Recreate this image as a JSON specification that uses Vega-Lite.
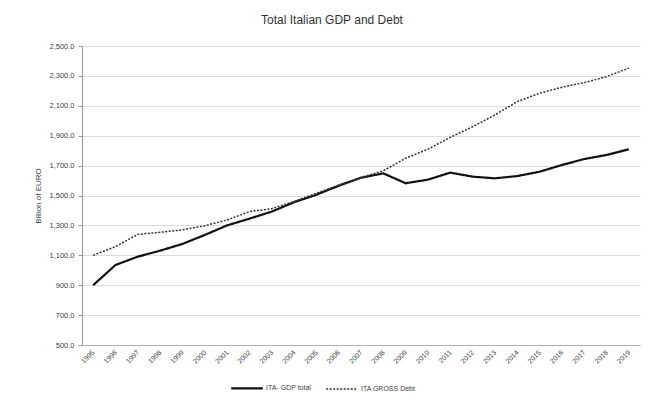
{
  "$schema": "https://vega.github.io/schema/vega-lite/v6.json",
  "autosize": {"type": "none"},
  "width": 558,
  "height": 299,
  "padding": {"left": 82, "top": 46, "right": 18, "bottom": 59},
  "background": "white",
  "title": {
    "text": "Total Italian GDP and Debt",
    "font": "Liberation Sans",
    "fontSize": 12,
    "fontWeight": "normal",
    "color": "#333333",
    "anchor": "middle",
    "dx": -29,
    "offset": 15
  },
  "data": {
    "values": [
      {"year": "1995", "series": "ITA- GDP total", "value": 900},
      {"year": "1996", "series": "ITA- GDP total", "value": 1035},
      {"year": "1997", "series": "ITA- GDP total", "value": 1091},
      {"year": "1998", "series": "ITA- GDP total", "value": 1131},
      {"year": "1999", "series": "ITA- GDP total", "value": 1176},
      {"year": "2000", "series": "ITA- GDP total", "value": 1236},
      {"year": "2001", "series": "ITA- GDP total", "value": 1300},
      {"year": "2002", "series": "ITA- GDP total", "value": 1345},
      {"year": "2003", "series": "ITA- GDP total", "value": 1392},
      {"year": "2004", "series": "ITA- GDP total", "value": 1455},
      {"year": "2005", "series": "ITA- GDP total", "value": 1505},
      {"year": "2006", "series": "ITA- GDP total", "value": 1565},
      {"year": "2007", "series": "ITA- GDP total", "value": 1619},
      {"year": "2008", "series": "ITA- GDP total", "value": 1648},
      {"year": "2009", "series": "ITA- GDP total", "value": 1582},
      {"year": "2010", "series": "ITA- GDP total", "value": 1606},
      {"year": "2011", "series": "ITA- GDP total", "value": 1653},
      {"year": "2012", "series": "ITA- GDP total", "value": 1626},
      {"year": "2013", "series": "ITA- GDP total", "value": 1615},
      {"year": "2014", "series": "ITA- GDP total", "value": 1630},
      {"year": "2015", "series": "ITA- GDP total", "value": 1659},
      {"year": "2016", "series": "ITA- GDP total", "value": 1704},
      {"year": "2017", "series": "ITA- GDP total", "value": 1744},
      {"year": "2018", "series": "ITA- GDP total", "value": 1771},
      {"year": "2019", "series": "ITA- GDP total", "value": 1809},
      {"year": "1995", "series": "ITA GROSS Debt", "value": 1100},
      {"year": "1996", "series": "ITA GROSS Debt", "value": 1158},
      {"year": "1997", "series": "ITA GROSS Debt", "value": 1240},
      {"year": "1998", "series": "ITA GROSS Debt", "value": 1254},
      {"year": "1999", "series": "ITA GROSS Debt", "value": 1270},
      {"year": "2000", "series": "ITA GROSS Debt", "value": 1298},
      {"year": "2001", "series": "ITA GROSS Debt", "value": 1336},
      {"year": "2002", "series": "ITA GROSS Debt", "value": 1392},
      {"year": "2003", "series": "ITA GROSS Debt", "value": 1412},
      {"year": "2004", "series": "ITA GROSS Debt", "value": 1460},
      {"year": "2005", "series": "ITA GROSS Debt", "value": 1515},
      {"year": "2006", "series": "ITA GROSS Debt", "value": 1570},
      {"year": "2007", "series": "ITA GROSS Debt", "value": 1620},
      {"year": "2008", "series": "ITA GROSS Debt", "value": 1665},
      {"year": "2009", "series": "ITA GROSS Debt", "value": 1749},
      {"year": "2010", "series": "ITA GROSS Debt", "value": 1810},
      {"year": "2011", "series": "ITA GROSS Debt", "value": 1889},
      {"year": "2012", "series": "ITA GROSS Debt", "value": 1960},
      {"year": "2013", "series": "ITA GROSS Debt", "value": 2039},
      {"year": "2014", "series": "ITA GROSS Debt", "value": 2128},
      {"year": "2015", "series": "ITA GROSS Debt", "value": 2184},
      {"year": "2016", "series": "ITA GROSS Debt", "value": 2224},
      {"year": "2017", "series": "ITA GROSS Debt", "value": 2255},
      {"year": "2018", "series": "ITA GROSS Debt", "value": 2295},
      {"year": "2019", "series": "ITA GROSS Debt", "value": 2352}
    ]
  },
  "mark": {"type": "line", "strokeCap": "butt"},
  "encoding": {
    "x": {
      "field": "year",
      "type": "ordinal",
      "scale": {"type": "point", "padding": 0.5},
      "axis": {
        "title": null,
        "labelAngle": -45,
        "labelAlign": "right",
        "labelBaseline": "middle",
        "labelFont": "Liberation Sans",
        "labelFontSize": 7,
        "labelColor": "#404040",
        "labelPadding": 6,
        "ticks": false,
        "grid": false,
        "domainColor": "#b0b0b0",
        "domainWidth": 1
      }
    },
    "y": {
      "field": "value",
      "type": "quantitative",
      "scale": {"domain": [500, 2500], "nice": false, "zero": false},
      "axis": {
        "title": "Billion of  EURO",
        "titleFont": "Liberation Sans",
        "titleFontSize": 8,
        "titleFontWeight": "normal",
        "titleColor": "#404040",
        "titlePadding": 6,
        "values": [500, 700, 900, 1100, 1300, 1500, 1700, 1900, 2100, 2300, 2500],
        "format": ",.1f",
        "labelFont": "Liberation Sans",
        "labelFontSize": 7.5,
        "labelColor": "#404040",
        "labelPadding": 4,
        "tickSize": 4,
        "tickColor": "#9a9a9a",
        "domainColor": "#9a9a9a",
        "gridColor": "#dcdcdc",
        "gridWidth": 1
      }
    },
    "color": {
      "field": "series",
      "type": "nominal",
      "scale": {"domain": ["ITA- GDP total", "ITA GROSS Debt"], "range": ["#111111", "#333333"]},
      "legend": {
        "title": null,
        "orient": "none",
        "direction": "horizontal",
        "legendX": 148,
        "legendY": 325,
        "symbolType": "stroke",
        "symbolSize": 1000,
        "symbolStrokeWidth": 2,
        "labelFont": "Liberation Sans",
        "labelFontSize": 7,
        "labelColor": "#404040",
        "labelOffset": 2,
        "columnPadding": 12
      }
    },
    "strokeDash": {
      "field": "series",
      "type": "nominal",
      "scale": {"domain": ["ITA- GDP total", "ITA GROSS Debt"], "range": [[1, 0], [2, 1.5]]},
      "legend": null
    },
    "strokeWidth": {
      "field": "series",
      "type": "nominal",
      "scale": {"domain": ["ITA- GDP total", "ITA GROSS Debt"], "range": [2.2, 1.5]},
      "legend": null
    }
  },
  "config": {"view": {"stroke": null}}
}
